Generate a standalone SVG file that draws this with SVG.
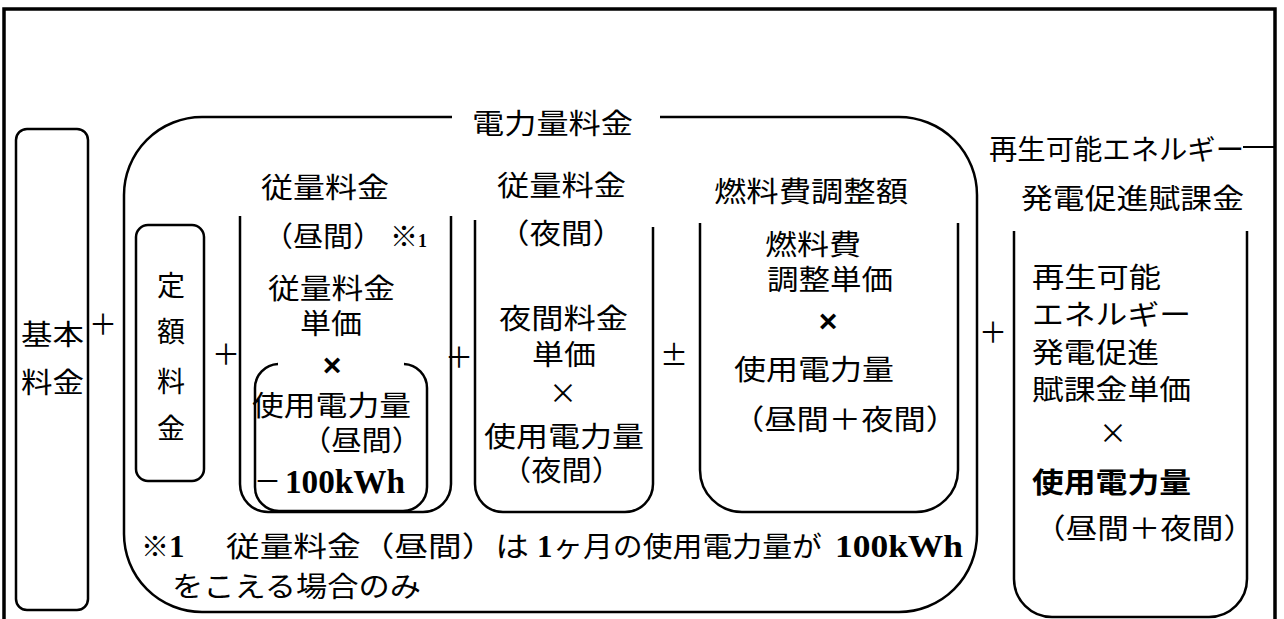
<svg xmlns="http://www.w3.org/2000/svg" width="1284" height="619" viewBox="0 0 1284 619">
<style>
.bx{fill:none;stroke:#000;stroke-width:2.5;stroke-linejoin:round}
.fr{fill:none;stroke:#000;stroke-width:3.5}
.t{font-family:"Noto Sans CJK JP","Noto Sans CJK SC",sans-serif;font-size:28px;fill:#000}
.c{text-anchor:middle}
.s{font-family:"Liberation Serif",serif;font-weight:bold;fill:#000}
.xb{font-family:"Liberation Sans",sans-serif;font-weight:bold;font-size:32px;text-anchor:middle;fill:#000}
.b{font-weight:bold}
</style>
<rect width="1284" height="619" fill="#fff"/>
<path class="fr" d="M4,619 V9 H1275 V619"/>
<line x1="1243" y1="147" x2="1275" y2="147" stroke="#000" stroke-width="2"/>

<g id="kihon">
<rect class="bx" x="16" y="129" width="72" height="481" rx="11"/>
<text class="t" x="21" y="345" textLength="63" lengthAdjust="spacingAndGlyphs">基本</text>
<text class="t" x="21" y="393" textLength="63" lengthAdjust="spacingAndGlyphs">料金</text>
</g>

<g id="denryoku">
<path class="bx" d="M452,117 H202 A78,78 0 0 0 124,195 V534 A78,78 0 0 0 202,612 H899 A78,78 0 0 0 977,534 V195 A78,78 0 0 0 899,117 H660"/>
<text class="t" x="472" y="134" textLength="161" lengthAdjust="spacingAndGlyphs">電力量料金</text>
<text class="t" x="141" y="557" font-size="26">※<tspan class="s" font-size="31">1</tspan></text>
<text class="t" x="226" y="557" textLength="303" lengthAdjust="spacingAndGlyphs">従量料金（昼間）は</text>
<text class="s" x="537" y="557" font-size="31">1</text>
<text class="t" x="553" y="557" textLength="269" lengthAdjust="spacingAndGlyphs">ヶ月の使用電力量が</text>
<text class="s" x="835" y="557" font-size="32" textLength="128" lengthAdjust="spacingAndGlyphs">100kWh</text>
<text class="t" x="172" y="597" textLength="249" lengthAdjust="spacingAndGlyphs">をこえる場合のみ</text>
</g>

<g id="teigaku">
<rect class="bx" x="136" y="225" width="68" height="256" rx="12"/>
<text class="t c" x="171" y="296" font-size="29">定</text>
<text class="t c" x="171" y="342" font-size="29">額</text>
<text class="t c" x="171" y="392" font-size="29">料</text>
<text class="t c" x="171" y="439" font-size="29">金</text>
</g>

<g id="juryo-day">
<path class="bx" d="M240,216 V484 A28,28 0 0 0 268,512 H423 A28,28 0 0 0 451,484 V216"/>
<path class="bx" d="M278,364 A24,24 0 0 0 255,388 V487 A24,24 0 0 0 279,511 H403 A24,24 0 0 0 427,487 V388 A24,24 0 0 0 404,364"/>
<text class="t" x="261" y="198" textLength="128" lengthAdjust="spacingAndGlyphs">従量料金</text>
<text class="t" x="263" y="247" textLength="120" lengthAdjust="spacingAndGlyphs">（昼間）</text>
<text class="t b" x="390" y="247" font-size="17">※<tspan class="s" font-size="18">1</tspan></text>
<text class="t" x="268" y="299" textLength="127" lengthAdjust="spacingAndGlyphs">従量料金</text>
<text class="t" x="300" y="334" textLength="62" lengthAdjust="spacingAndGlyphs">単価</text>
<text class="xb" x="332" y="376">×</text>
<text class="t" x="252" y="416" textLength="159" lengthAdjust="spacingAndGlyphs">使用電力量</text>
<text class="t" x="301" y="451" textLength="121" lengthAdjust="spacingAndGlyphs">（昼間）</text>
<text class="t" x="254" y="492" textLength="27" lengthAdjust="spacingAndGlyphs">－</text>
<text class="s" x="285" y="493" font-size="33" textLength="120" lengthAdjust="spacingAndGlyphs">100kWh</text>
</g>

<g id="juryo-night">
<path class="bx" d="M475,220 V484 A28,28 0 0 0 503,512 H625 A28,28 0 0 0 653,484 V227"/>
<text class="t" x="497" y="196" textLength="129" lengthAdjust="spacingAndGlyphs">従量料金</text>
<text class="t" x="498" y="244" textLength="126" lengthAdjust="spacingAndGlyphs">（夜間）</text>
<text class="t" x="499" y="329" textLength="129" lengthAdjust="spacingAndGlyphs">夜間料金</text>
<text class="t" x="532" y="365" textLength="64" lengthAdjust="spacingAndGlyphs">単価</text>
<text class="t c" x="563" y="404" font-size="30">×</text>
<text class="t" x="484" y="447" textLength="160" lengthAdjust="spacingAndGlyphs">使用電力量</text>
<text class="t" x="501" y="481" textLength="121" lengthAdjust="spacingAndGlyphs">（夜間）</text>
</g>

<g id="nenryo">
<path class="bx" d="M700,223 V470 A42,42 0 0 0 742,512 H916 A42,42 0 0 0 958,470 V223"/>
<text class="t" x="714" y="202" textLength="194" lengthAdjust="spacingAndGlyphs">燃料費調整額</text>
<text class="t" x="765" y="255" textLength="96" lengthAdjust="spacingAndGlyphs">燃料費</text>
<text class="t" x="767" y="290" textLength="126" lengthAdjust="spacingAndGlyphs">調整単価</text>
<text class="xb" x="828" y="332">×</text>
<text class="t" x="734" y="380" textLength="160" lengthAdjust="spacingAndGlyphs">使用電力量</text>
<text class="t" x="732" y="430" textLength="226" lengthAdjust="spacingAndGlyphs">（昼間＋夜間）</text>
</g>

<g id="saiene">
<path class="bx" d="M1014,231 V579 A38,38 0 0 0 1052,617 H1209 A38,38 0 0 0 1247,579 V231"/>
<text class="t" x="989" y="160" textLength="255" lengthAdjust="spacingAndGlyphs">再生可能エネルギー</text>
<text class="t" x="1021" y="209" textLength="223" lengthAdjust="spacingAndGlyphs">発電促進賦課金</text>
<text class="t" x="1032" y="288" textLength="129" lengthAdjust="spacingAndGlyphs">再生可能</text>
<text class="t" x="1032" y="325" textLength="159" lengthAdjust="spacingAndGlyphs">エネルギー</text>
<text class="t" x="1032" y="363" textLength="127" lengthAdjust="spacingAndGlyphs">発電促進</text>
<text class="t" x="1032" y="400" textLength="159" lengthAdjust="spacingAndGlyphs">賦課金単価</text>
<text class="t c" x="1113" y="444" font-size="30">×</text>
<text class="t b" x="1032" y="493" textLength="159" lengthAdjust="spacingAndGlyphs">使用電力量</text>
<text class="t" x="1034" y="539" textLength="221" lengthAdjust="spacingAndGlyphs">（昼間＋夜間）</text>
</g>

<g id="connectors">
<text class="t c" x="103" y="335">＋</text>
<text class="t c" x="226" y="365">＋</text>
<text class="t c" x="459" y="368">＋</text>
<text class="t c" x="674" y="366">±</text>
<text class="t c" x="993" y="343">＋</text>
</g>
</svg>
